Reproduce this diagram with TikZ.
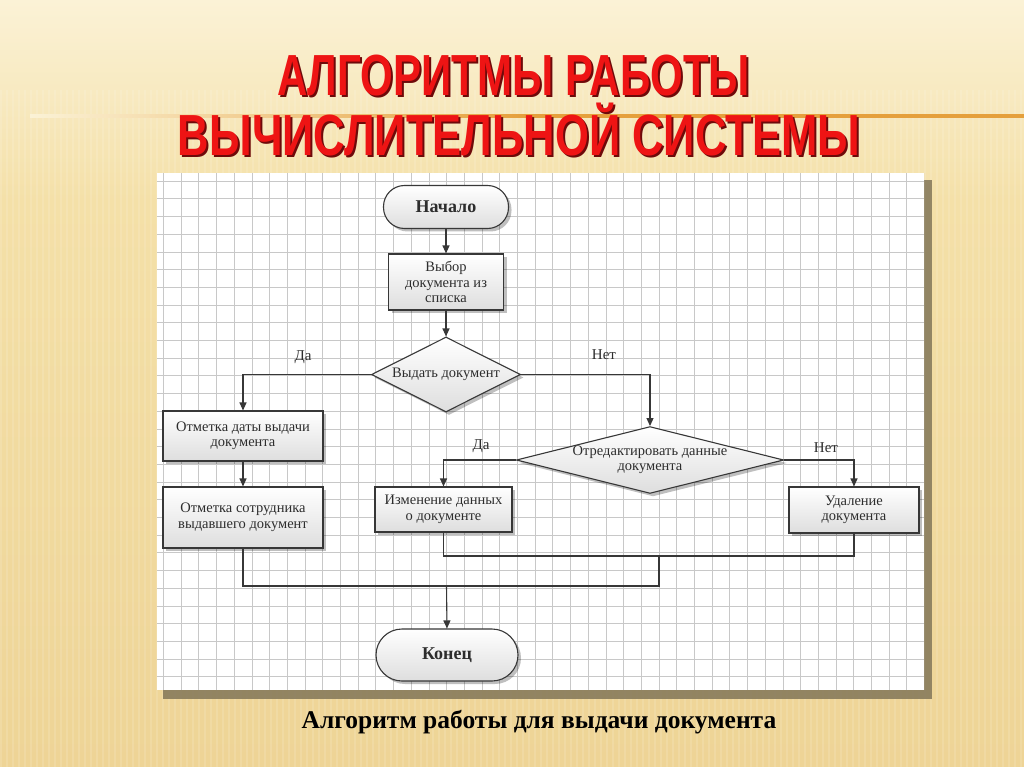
\documentclass[tikz,border=0pt]{standalone}
\usepackage{fontspec}
\setmainfont{Liberation Serif}
\newfontfamily\titlefont{Liberation Sans}
\usetikzlibrary{arrows.meta,shapes.geometric,shadows}
\definecolor{bgtop}{RGB}{251,242,214}
\definecolor{bgmid}{RGB}{244,224,168}
\definecolor{bgbot}{RGB}{238,212,150}
\definecolor{orangeline}{RGB}{229,160,60}
\definecolor{titlered}{RGB}{238,20,20}
\definecolor{titleshadow}{RGB}{110,10,10}
\definecolor{gridc}{RGB}{200,200,200}
\definecolor{linec}{RGB}{55,55,55}
\definecolor{txtc}{RGB}{45,45,45}
\definecolor{panelshadow}{RGB}{130,118,88}
\tikzset{
  base/.style={draw=linec, line width=1.1pt, top color=white, bottom color=black!13,
    drop shadow={shadow xshift=3pt, shadow yshift=-3pt, fill=black, opacity=0.25},
    text=txtc, font=\fontsize{14.5}{15.5}\selectfont, align=center, inner sep=1pt},
  terminal/.style={base, rectangle, rounded corners=21pt, minimum width=125pt, minimum height=43pt,
    font=\fontsize{18}{20}\selectfont\bfseries},
  proc/.style={base, rectangle},
  decision/.style={base, diamond, inner sep=0pt},
  conn/.style={draw=linec, line width=1.1pt},
  arr/.style={conn, -{Triangle[length=8pt,width=7pt]}},
  lbl/.style={text=txtc, font=\fontsize{15}{17}\selectfont, inner sep=0pt}
}
\begin{document}
\begin{tikzpicture}[x=1pt,y=-1pt]
\useasboundingbox (0,0) rectangle (1024,767);
% background
\shade[top color=bgtop, bottom color=bgmid] (0,0) rectangle (1024,200);
\shade[top color=bgmid, bottom color=bgbot] (0,200) rectangle (1024,767);
\foreach \i in {0,6,...,1020} {
  \fill[white, opacity=0.12] (\i,90) rectangle (\i+2,767);
}
% orange line
\shade[left color=bgtop, right color=orangeline, middle color=orangeline] (30,115) rectangle (1024,117.5);
% title
\node[text=titleshadow, inner sep=0pt] at (515.5,78) {\resizebox{473pt}{\height}{\titlefont\fontsize{58}{58}\selectfont\bfseries АЛГОРИТМЫ РАБОТЫ}};
\node[text=titlered, inner sep=0pt] (t1) at (513.5,76) {\resizebox{473pt}{\height}{\titlefont\fontsize{58}{58}\selectfont\bfseries АЛГОРИТМЫ РАБОТЫ}};
\node[text=titleshadow, inner sep=0pt, anchor=base] at (521,158) {\resizebox{682pt}{\height}{\titlefont\fontsize{58}{58}\selectfont\bfseries ВЫЧИСЛИТЕЛЬНОЙ СИСТЕМЫ}};
\node[text=titlered, inner sep=0pt, anchor=base] (t2) at (519,156) {\resizebox{682pt}{\height}{\titlefont\fontsize{58}{58}\selectfont\bfseries ВЫЧИСЛИТЕЛЬНОЙ СИСТЕМЫ}};
% panel
\fill[panelshadow, opacity=0.85] (163,180) rectangle (932,699);
\fill[white] (157,173) rectangle (924,690);
\begin{scope}
\clip (157,173) rectangle (924,690);
\foreach \k in {0,...,43} {
  \draw[gridc, line width=0.6pt] (163.3+17.7*\k,173) -- (163.3+17.7*\k,690);
}
\foreach \k in {0,...,29} {
  \draw[gridc, line width=0.6pt] (157,181+17.7*\k) -- (924,181+17.7*\k);
}
\end{scope}
% nodes
\node[terminal] (start) at (446,207) {Начало};
\node[proc, minimum width=115pt, minimum height=56pt] (choose) at (446,282) {Выбор\\документа из\\списка};
\node[decision, shape aspect=2.5, minimum width=149pt, minimum height=75pt] (issue) at (446,374.5) {Выдать документ};
\node[proc, minimum width=160pt, minimum height=50pt] (date) at (243,436) {Отметка даты выдачи\\документа};
\node[proc, minimum width=160pt, minimum height=61pt] (emp) at (243,517.5) {Отметка сотрудника\\выдавшего документ};
\node[decision, shape aspect=4, minimum width=264pt, minimum height=66pt] (edit) at (650,460) {Отредактировать данные\\документа};
\node[proc, minimum width=137pt, minimum height=45pt] (change) at (443.5,509.5) {Изменение данных\\о документе};
\node[proc, minimum width=130pt, minimum height=46pt] (del) at (854,510) {Удаление\\документа};
\node[terminal, minimum width=142pt, minimum height=52pt, rounded corners=26pt] (stop) at (447,655) {Конец};
% helper coordinates
\coordinate (j1) at (659,556);
\coordinate (j2) at (659,586);
\coordinate (j3) at (446.5,586);
% connectors
\draw[arr] (start) -- (choose);
\draw[arr] (choose) -- (issue);
\draw[arr] (issue.west) -| (date.north);
\draw[arr] (issue.east) -| (edit.north);
\draw[arr] (date) -- (emp);
\draw[arr] (edit.west) -| (change.north);
\draw[arr] (edit.east) -| (del.north);
\draw[conn] (change.south) |- (j1) -| (del.south);
\draw[conn] (emp.south) |- (j2) -- (j1);
\draw[arr] (j3) -- (stop.north);
% labels
\node[lbl] at (303,357) {Да};
\node[lbl] at (604,355) {Нет};
\node[lbl] at (481,446) {Да};
\node[lbl] at (826,448) {Нет};
% caption
\node[inner sep=0pt, font=\fontsize{25.5}{28}\selectfont\bfseries] (cap) at (539,722) {Алгоритм работы для выдачи документа};
\end{tikzpicture}
\end{document}
